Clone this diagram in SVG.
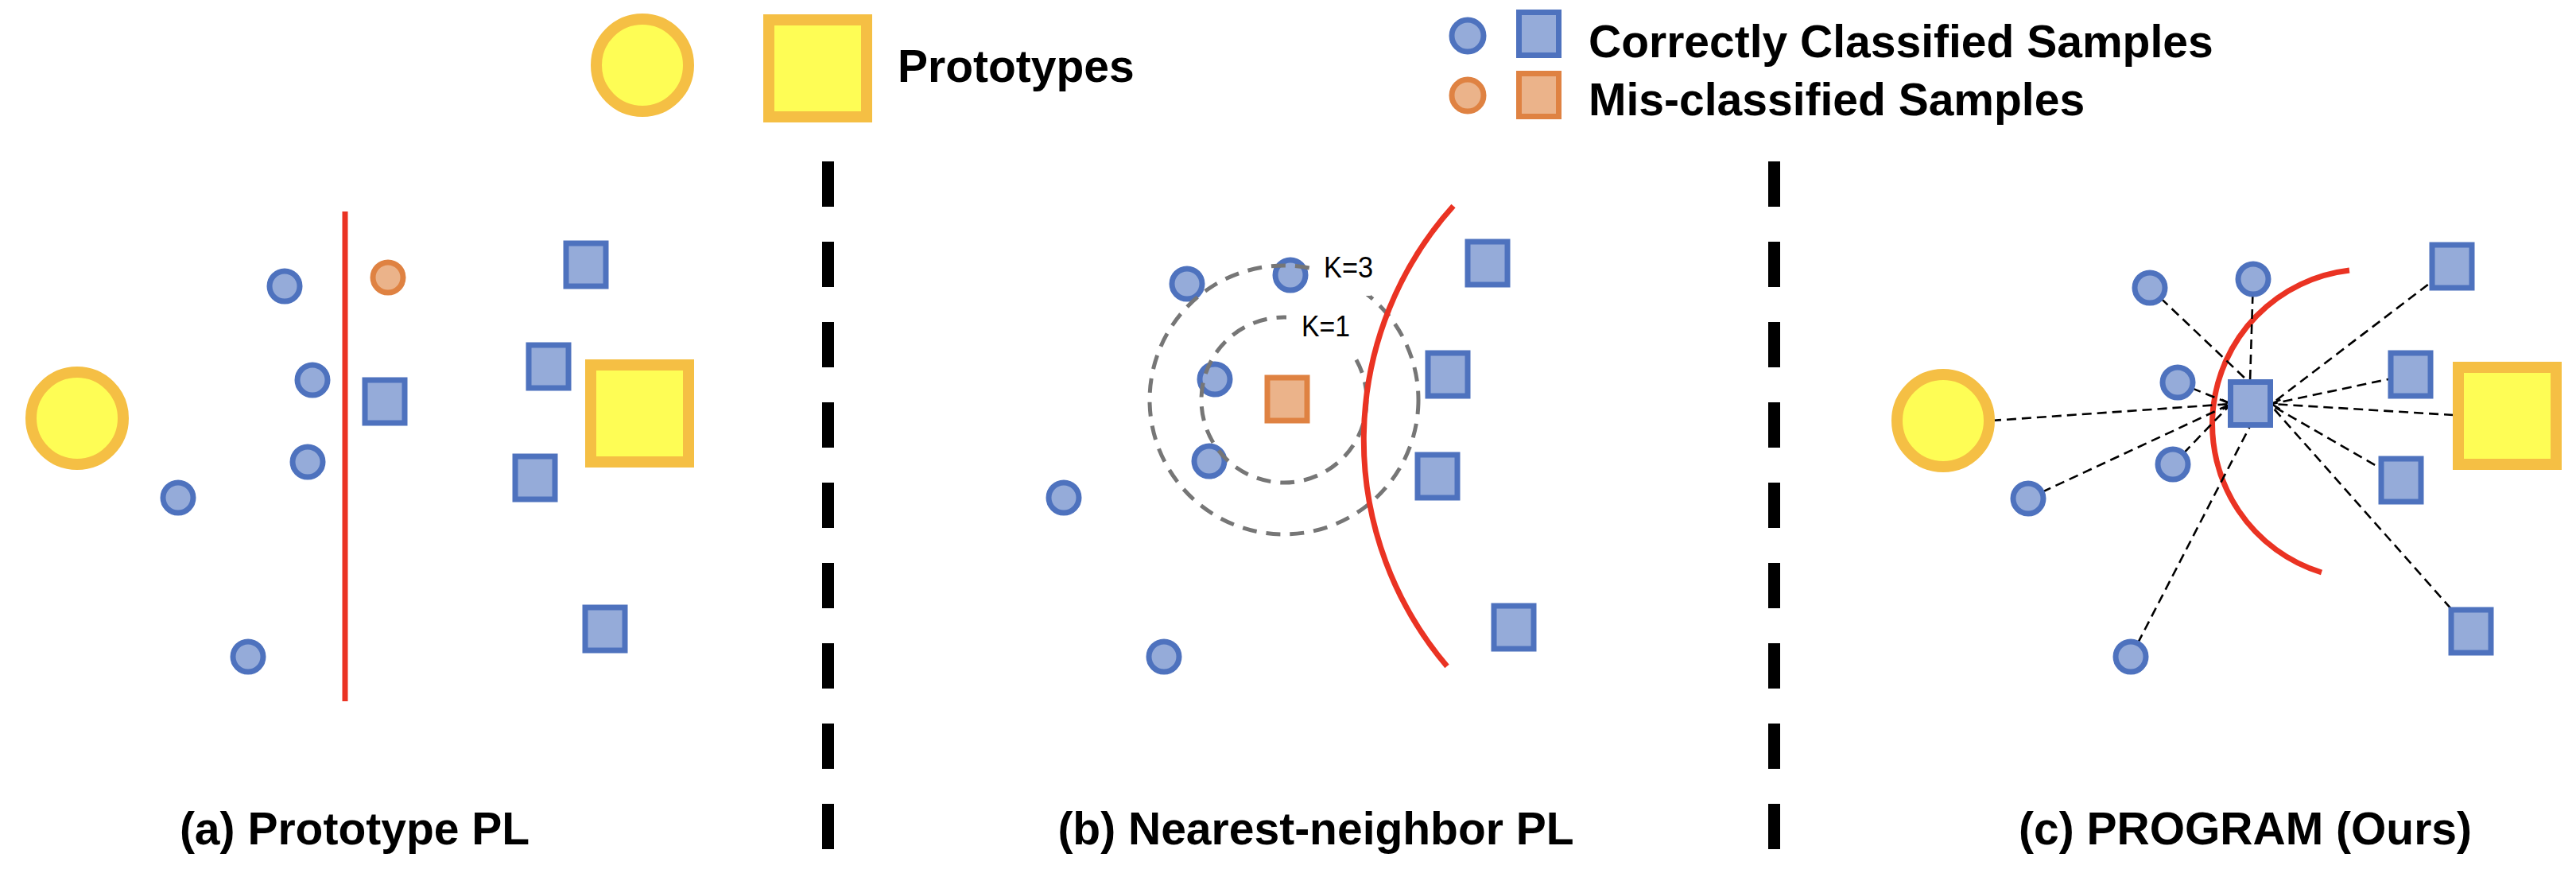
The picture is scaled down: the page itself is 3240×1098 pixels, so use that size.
<svg xmlns="http://www.w3.org/2000/svg" width="3240" height="1098" viewBox="0 0 3240 1098">
<style>
  .bc{fill:#95ABD9;stroke:#4E72BE;stroke-width:7}
  .bs{fill:#95ABD9;stroke:#4E72BE;stroke-width:7}
  .oc{fill:#EBB38A;stroke:#DF8242;stroke-width:7}
  .yc{fill:#FEFD55;stroke:#F5BF44;stroke-width:14}
  .red{fill:none;stroke:#EA3323;stroke-width:7}
  .sep{fill:none;stroke:#000;stroke-width:15;stroke-dasharray:57 44}
  .knn{fill:none;stroke:#767676;stroke-width:5;stroke-dasharray:18 12}
  .dl{fill:none;stroke:#000;stroke-width:2.6;stroke-dasharray:12 7}
  .lbl{font-family:"Liberation Sans",Arial,sans-serif;font-weight:bold;font-size:57px;fill:#000}
  .k{font-family:"Liberation Sans",Arial,sans-serif;font-size:37px;fill:#000}
  .tb{fill:#fff;stroke:none}
</style>
<defs>
  <marker id="arr" markerUnits="userSpaceOnUse" markerWidth="16" markerHeight="16" refX="13" refY="8" orient="auto">
    <path d="M2,2 L13,8 L2,14" fill="none" stroke="#000" stroke-width="2.6" stroke-dasharray="none"/>
  </marker>
</defs>
<rect width="3240" height="1098" fill="#fff"/>

<!-- Legend -->
<g id="legend">
  <circle class="yc" cx="808" cy="82" r="58"/>
  <rect class="yc" x="967" y="25" width="123" height="122"/>
  <text class="lbl" x="1129" y="103">Prototypes</text>
  <circle class="bc" cx="1846" cy="45" r="20"/>
  <rect class="bs" x="1910.5" y="15.5" width="50" height="54"/>
  <text class="lbl" x="1998" y="72">Correctly Classified Samples</text>
  <circle class="oc" cx="1846" cy="120" r="20"/>
  <rect class="oc" x="1910.5" y="92.5" width="50" height="54"/>
  <text class="lbl" x="1998" y="145">Mis-classified Samples</text>
</g>

<!-- Separators -->
<g id="separators">
  <line class="sep" x1="1041.5" y1="203" x2="1041.5" y2="1075"/>
  <line class="sep" x1="2231.5" y1="203" x2="2231.5" y2="1075"/>
</g>

<!-- Panel (a) -->
<g id="panel-a">
  <line class="red" x1="434" y1="266" x2="434" y2="882"/>
  <circle class="yc" cx="97" cy="526" r="58"/>
  <rect class="yc" x="743" y="459" width="123" height="122"/>
  <circle class="bc" cx="358" cy="360" r="19"/>
  <circle class="oc" cx="488" cy="349" r="19"/>
  <circle class="bc" cx="393" cy="478" r="19"/>
  <circle class="bc" cx="387" cy="581" r="19"/>
  <circle class="bc" cx="224" cy="626" r="19"/>
  <circle class="bc" cx="312" cy="826" r="19"/>
  <rect class="bs" x="459" y="478" width="50" height="54"/>
  <rect class="bs" x="712" y="306" width="50" height="54"/>
  <rect class="bs" x="665" y="434" width="50" height="54"/>
  <rect class="bs" x="648" y="574" width="50" height="54"/>
  <rect class="bs" x="736" y="764" width="50" height="54"/>
  <text class="lbl" x="446" y="1062" text-anchor="middle">(a) Prototype PL</text>
</g>

<!-- Panel (b) -->
<g id="panel-b">
  <circle class="bc" cx="1493" cy="357" r="19"/>
  <circle class="bc" cx="1623" cy="346" r="19"/>
  <circle class="bc" cx="1528" cy="477" r="19"/>
  <circle class="bc" cx="1521" cy="580" r="19"/>
  <circle class="bc" cx="1338" cy="626" r="19"/>
  <circle class="bc" cx="1464" cy="826" r="19"/>
  <rect class="oc" x="1594" y="475" width="50" height="54"/>
  <rect class="bs" x="1846" y="304" width="50" height="54"/>
  <rect class="bs" x="1796" y="444" width="50" height="54"/>
  <rect class="bs" x="1783" y="572" width="50" height="54"/>
  <rect class="bs" x="1879" y="762" width="50" height="54"/>
  <circle class="knn" cx="1615" cy="503" r="169"/>
  <circle class="knn" cx="1615" cy="503" r="104"/>
  <rect class="tb" x="1648" y="310" width="76" height="62"/>
  <rect class="tb" x="1618" y="386" width="86" height="58"/>
  <path class="red" d="M1828 259 A440 440 0 0 0 1820 838"/>
  <text class="k" x="1665" y="349" textLength="62" lengthAdjust="spacingAndGlyphs">K=3</text>
  <text class="k" x="1637" y="423" textLength="61" lengthAdjust="spacingAndGlyphs">K=1</text>
  <text class="lbl" x="1655" y="1062" text-anchor="middle">(b) Nearest-neighbor PL</text>
</g>

<!-- Panel (c) -->
<g id="panel-c">
  <path class="red" d="M2955 340 A195 195 0 0 0 2920 720"/>
  <g id="connectors">
    <line class="dl" x1="2505" y1="529" x2="2806" y2="508" marker-end="url(#arr)"/>
    <line class="dl" x1="2704" y1="362" x2="2826" y2="478"/>
    <line class="dl" x1="2834" y1="351" x2="2830" y2="480"/>
    <line class="dl" x1="2739" y1="481" x2="2806" y2="508"/>
    <line class="dl" x1="2733" y1="584" x2="2806" y2="508"/>
    <line class="dl" x1="2551" y1="627" x2="2806" y2="508"/>
    <line class="dl" x1="2680" y1="826" x2="2830" y2="536"/>
    <line class="dl" x1="3084" y1="335" x2="2857" y2="508"/>
    <line class="dl" x1="3032" y1="471" x2="2857" y2="508"/>
    <line class="dl" x1="3086" y1="522" x2="2857" y2="508" marker-end="url(#arr)"/>
    <line class="dl" x1="3020" y1="604" x2="2859" y2="511"/>
    <line class="dl" x1="3108" y1="794" x2="2859" y2="513"/>
  </g>
  <circle class="yc" cx="2444" cy="529" r="58"/>
  <rect class="yc" x="3092" y="462" width="123" height="122"/>
  <circle class="bc" cx="2704" cy="362" r="19"/>
  <circle class="bc" cx="2834" cy="351" r="19"/>
  <circle class="bc" cx="2739" cy="481" r="19"/>
  <circle class="bc" cx="2733" cy="584" r="19"/>
  <circle class="bc" cx="2551" cy="627" r="19"/>
  <circle class="bc" cx="2680" cy="826" r="19"/>
  <rect class="bs" x="2805.5" y="480.5" width="50" height="54"/>
  <rect class="bs" x="3059" y="308" width="50" height="54"/>
  <rect class="bs" x="3007" y="444" width="50" height="54"/>
  <rect class="bs" x="2995" y="577" width="50" height="54"/>
  <rect class="bs" x="3083" y="767" width="50" height="54"/>
  <text class="lbl" x="2824" y="1062" text-anchor="middle">(c) PROGRAM (Ours)</text>
</g>
</svg>
